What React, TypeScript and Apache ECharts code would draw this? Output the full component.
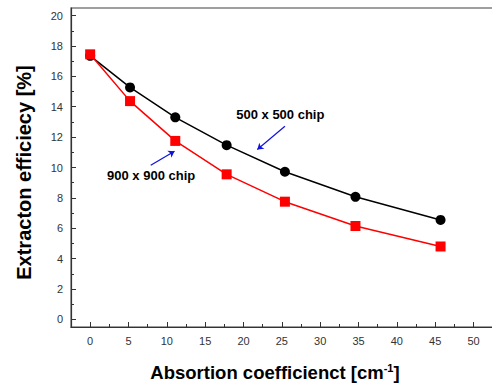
import React, { useEffect, useRef } from "react";
import * as echarts from "echarts";

const xValues = [0, 5.2, 11.1, 17.8, 25.4, 34.6, 45.7];
const chip500 = [17.35, 15.27, 13.3, 11.47, 9.72, 8.07, 6.55];
const chip900 = [17.45, 14.37, 11.75, 9.55, 7.75, 6.15, 4.8];
const xMajorTicks = [0, 5, 10, 15, 20, 25, 30, 35, 40, 45, 50];
const xMinorTicks = [2.5, 7.5, 12.5, 17.5, 22.5, 27.5, 32.5, 37.5, 42.5, 47.5];
const yMajorTicks = [0, 2, 4, 6, 8, 10, 12, 14, 16, 18, 20];
const yMinorTicks = [1, 3, 5, 7, 9, 11, 13, 15, 17, 19];
const arrow900 = [[7.9, 10.15], [11.0, 11.07]];
const arrow500 = [[25.4, 12.72], [21.8, 11.18]];
const label900 = { text: "900 x 900 chip", at: [7.95, 9.5] };
const label500 = { text: "500 x 500 chip", at: [24.8, 13.5] };

const FONT = "Arial, 'Liberation Sans', sans-serif";

export default function App() {
  const ref = useRef<HTMLDivElement>(null);
  useEffect(() => {
    if (!ref.current) return;
    const chart = echarts.init(ref.current, null, { renderer: "svg" });
    const axisLine = { show: true, onZero: false, lineStyle: { color: "#333", width: 1.2 } };
    const hiddenLine = { show: false, onZero: false };
    const xBase = { type: "value", min: -2.5, max: 52.8, splitLine: { show: false } };
    const yBase = { type: "value", min: -0.5, max: 20.5, position: "left", splitLine: { show: false } };
    const arrowLine = (pts: number[][]) => ({
      silent: true,
      symbol: ["none", "arrow"],
      symbolSize: 6,
      lineStyle: { color: "#1010e0", width: 1.2, type: "solid" },
      label: { show: false },
      data: [[{ coord: pts[0] }, { coord: pts[1] }]],
    });
    const textPoint = (l: { text: string; at: number[] }) => ({
      silent: true,
      symbol: "circle",
      symbolSize: 0,
      label: {
        show: true,
        position: "inside",
        formatter: l.text,
        fontFamily: FONT,
        fontWeight: "bold",
        fontSize: 13,
        color: "#000",
      },
      data: [{ coord: l.at }],
    });
    chart.setOption({
      animation: false,
      backgroundColor: "#fff",
      grid: {
        left: 71,
        top: 8,
        right: 5,
        bottom: 56,
        show: true,
        borderColor: "#808080",
        borderWidth: 1.5,
        containLabel: false,
        outerBoundsMode: "none",
      },
      xAxis: [
        {
          ...xBase,
          position: "bottom",
          axisLine,
          axisTick: { show: true, inside: true, length: 5, customValues: xMajorTicks, lineStyle: { color: "#333" } },
          axisLabel: {
            customValues: xMajorTicks,
            margin: 8,
            fontFamily: FONT,
            fontSize: 11,
            color: "#333",
          },
          name: "Absortion coefficienct [cm{sup|-1}]",
          nameLocation: "middle",
          nameGap: 35,
          nameTextStyle: {
            fontFamily: FONT,
            fontWeight: "bold",
            fontSize: 18.5,
            color: "#000",
            padding: [0, 16, 0, 0],
            rich: {
              sup: { fontFamily: FONT, fontWeight: "bold", fontSize: 11, color: "#000", verticalAlign: "top", padding: [0, 0, 9, 0] },
            },
          },
        },
        {
          ...xBase,
          position: "bottom",
          axisLine: hiddenLine,
          axisTick: { show: true, inside: true, length: 3, customValues: xMinorTicks, lineStyle: { color: "#333" } },
          axisLabel: { show: false },
        },
      ],
      yAxis: [
        {
          ...yBase,
          axisLine,
          axisTick: { show: true, inside: true, length: 5, customValues: yMajorTicks, lineStyle: { color: "#333" } },
          axisLabel: {
            customValues: yMajorTicks,
            margin: 8,
            fontFamily: FONT,
            fontSize: 11,
            color: "#333",
          },
          name: "Extracton efficiecy [%]",
          nameLocation: "middle",
          nameGap: 37,
          nameTextStyle: { fontFamily: FONT, fontWeight: "bold", fontSize: 20, color: "#000", padding: [0, 10, 0, 0] },
        },
        {
          ...yBase,
          axisLine: hiddenLine,
          axisTick: { show: true, inside: true, length: 3, customValues: yMinorTicks, lineStyle: { color: "#333" } },
          axisLabel: { show: false },
        },
      ],
      series: [
        {
          name: "500 x 500 chip",
          type: "line",
          data: xValues.map((x, i) => [x, chip500[i]]),
          symbol: "circle",
          symbolSize: 10,
          lineStyle: { color: "#000", width: 1.5 },
          itemStyle: { color: "#000" },
          markLine: arrowLine(arrow500),
          markPoint: textPoint(label500),
          z: 3,
        },
        {
          name: "900 x 900 chip",
          type: "line",
          data: xValues.map((x, i) => [x, chip900[i]]),
          symbol: "rect",
          symbolSize: 10,
          lineStyle: { color: "#ff0000", width: 1.5 },
          itemStyle: { color: "#ff0000" },
          markLine: arrowLine(arrow900),
          markPoint: textPoint(label900),
          z: 4,
        },
      ],
    });
    return () => chart.dispose();
  }, []);
  return (
    <div style={{ width: 492, height: 383, position: "absolute", left: 0, top: 0, overflow: "hidden" }}>
      <div ref={ref} style={{ width: 500, height: 383 }} />
    </div>
  );
}
